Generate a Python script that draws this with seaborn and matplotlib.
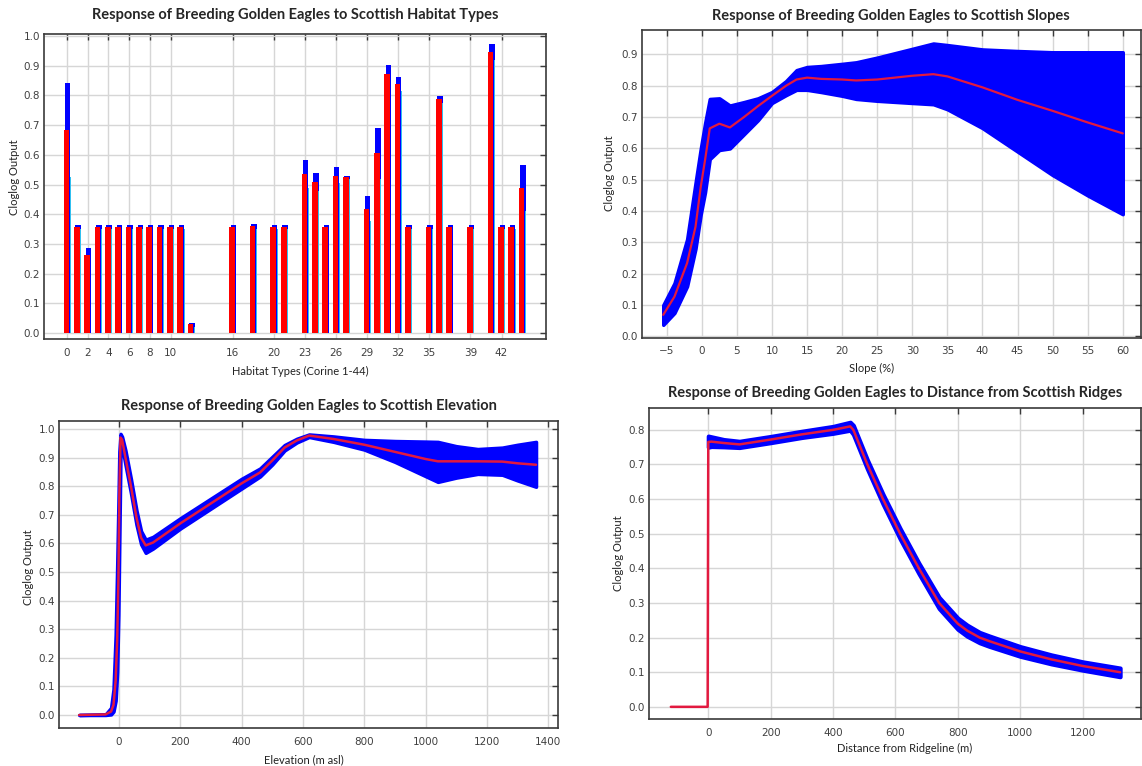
import numpy as np
import pandas as pd
import matplotlib
matplotlib.use("Agg")
import matplotlib.pyplot as plt
import seaborn as sns

# ---- habitat types (categorical response) ----
habitat = [0, 1, 2, 3, 4, 5, 6, 7, 8, 9, 10, 11, 12, 16, 18, 20, 21, 23, 24, 25, 26, 27,
           29, 30, 31, 32, 33, 35, 36, 37, 39, 41, 42, 43, 44]
hab_mean = [0.685, 0.357, 0.262, 0.357, 0.357, 0.357, 0.357, 0.357, 0.357, 0.357, 0.357, 0.357,
            0.031, 0.357, 0.360, 0.357, 0.357, 0.537, 0.509, 0.357, 0.529, 0.524,
            0.418, 0.607, 0.872, 0.837, 0.357, 0.357, 0.787, 0.357, 0.357, 0.947, 0.357, 0.357, 0.489]
hab_upper = [0.843, 0.363, 0.288, 0.363, 0.363, 0.363, 0.363, 0.363, 0.363, 0.363, 0.363, 0.363,
             0.035, 0.363, 0.366, 0.363, 0.363, 0.584, 0.540, 0.363, 0.560, 0.528,
             0.463, 0.691, 0.904, 0.862, 0.363, 0.363, 0.799, 0.363, 0.363, 0.972, 0.363, 0.363, 0.566]
hab_lower = [0.526, 0.351, 0.234, 0.351, 0.351, 0.351, 0.351, 0.351, 0.351, 0.351, 0.351, 0.351,
             0.020, 0.351, 0.352, 0.351, 0.351, 0.489, 0.479, 0.351, 0.506, 0.520,
             0.378, 0.520, 0.843, 0.815, 0.351, 0.351, 0.773, 0.351, 0.351, 0.919, 0.351, 0.351, 0.410]
hab_ticks = [0, 2, 4, 6, 8, 10, 16, 20, 23, 26, 29, 32, 35, 39, 42]

# ---- slope ----
slope_x = [-5.5, -3.9, -2.1, -0.9, -0.15, 0.46, 1.13, 2.5, 4, 6, 8, 10, 12, 13.5, 15, 17, 20,
           22, 25, 30, 33, 35, 40, 45, 50, 55, 60]
slope_mean = [0.069, 0.127, 0.234, 0.35, 0.478, 0.563, 0.664, 0.679, 0.667, 0.70, 0.735, 0.768,
              0.80, 0.82, 0.826, 0.822, 0.82, 0.817, 0.82, 0.832, 0.837, 0.83, 0.795, 0.755,
              0.72, 0.683, 0.648]
slope_upper = [0.10, 0.17, 0.31, 0.49, 0.60, 0.68, 0.758, 0.76, 0.737, 0.748, 0.76, 0.78, 0.815,
               0.85, 0.86, 0.863, 0.87, 0.875, 0.89, 0.918, 0.935, 0.93, 0.916, 0.911, 0.907,
               0.907, 0.907]
slope_lower = [0.037, 0.075, 0.16, 0.28, 0.39, 0.46, 0.566, 0.595, 0.60, 0.645, 0.69, 0.745,
               0.77, 0.787, 0.787, 0.78, 0.768, 0.758, 0.752, 0.745, 0.741, 0.725, 0.665, 0.59,
               0.515, 0.45, 0.39]

# ---- elevation ----
elev_x = [-130, -44, -26, -18, -11, -6, -2, 1, 5, 10, 21, 39, 57, 72, 87, 111, 200, 300, 400,
          460, 500, 540, 580, 620, 700, 800, 900, 1000, 1040, 1100, 1170, 1250, 1300, 1360]
elev_mean = [0.0, 0.002, 0.012, 0.035, 0.12, 0.26, 0.47, 0.76, 0.97, 0.963, 0.90, 0.80, 0.69,
             0.62, 0.593, 0.603, 0.67, 0.74, 0.81, 0.848, 0.89, 0.935, 0.96, 0.977, 0.965,
             0.945, 0.92, 0.895, 0.887, 0.887, 0.887, 0.886, 0.88, 0.875]
elev_upper = [0.0, 0.002, 0.025, 0.09, 0.28, 0.52, 0.74, 0.92, 0.983, 0.973, 0.925, 0.825, 0.715,
              0.643, 0.613, 0.623, 0.688, 0.757, 0.826, 0.862, 0.903, 0.944, 0.966, 0.981, 0.974,
              0.962, 0.958, 0.956, 0.955, 0.94, 0.93, 0.935, 0.945, 0.955]
elev_lower = [0.0, 0.0, 0.002, 0.012, 0.05, 0.15, 0.35, 0.60, 0.92, 0.94, 0.875, 0.775, 0.665,
              0.597, 0.567, 0.582, 0.652, 0.722, 0.792, 0.834, 0.876, 0.925, 0.953, 0.972, 0.955,
              0.928, 0.885, 0.835, 0.815, 0.83, 0.843, 0.84, 0.82, 0.798]

# ---- distance from ridgeline ----
ridge_x = [-120, -2, 0, 10, 50, 100, 200, 300, 400, 455, 465, 510, 560, 615, 675, 740, 780,
           800, 830, 870, 900, 1000, 1100, 1200, 1320]
ridge_mean = [0.0, 0.0, 0.765, 0.766, 0.762, 0.758, 0.772, 0.787, 0.80, 0.81, 0.80, 0.70, 0.60,
              0.50, 0.40, 0.30, 0.26, 0.24, 0.22, 0.20, 0.19, 0.16, 0.137, 0.118, 0.10]
ridge_upper = [0.0, 0.0, 0.782, 0.78, 0.772, 0.767, 0.781, 0.796, 0.81, 0.822, 0.813, 0.713,
               0.614, 0.515, 0.415, 0.316, 0.276, 0.256, 0.236, 0.215, 0.205, 0.174, 0.15,
               0.13, 0.112]
ridge_lower = [0.0, 0.0, 0.75, 0.752, 0.751, 0.749, 0.763, 0.778, 0.79, 0.799, 0.787, 0.687,
               0.586, 0.485, 0.385, 0.284, 0.244, 0.224, 0.204, 0.185, 0.175, 0.146, 0.124,
               0.106, 0.087]

BLUE = "#0000ff"
RED = "#ff0000"
LINE_RED = "#e2193f"
CYAN = "#30c0f0"

sns.set_style("white")
plt.rcParams["font.family"] = ["DejaVu Sans"]

fig = plt.figure(figsize=(11.42, 7.66), dpi=100)
W, H = 1142.0, 766.0


def make_ax(left, right, top, bottom):
    return fig.add_axes([left / W, 1 - bottom / H, (right - left) / W, (bottom - top) / H])


def style(ax, title, xlabel, pad, xl_pos, yl_pos):
    ax.grid(True, color="#d6d6d6", lw=1.0)
    ax.set_axisbelow(True)
    for s in ax.spines.values():
        s.set_color("#3a3a3a")
        s.set_linewidth(1.2)
        s.set_visible(True)
    ax.tick_params(direction="in", length=4, width=1.0, color="#3a3a3a",
                   top=True, right=True, labelsize=7.5, labelcolor="#404040")
    ax.tick_params(axis="x", pad=6)
    ax.tick_params(axis="y", pad=3)
    ax.set_title(title, fontfamily="Lato", fontweight="bold", fontsize=10.5, pad=pad)
    ax.set_xlabel(xlabel, fontfamily="Lato", fontsize=8, color="#222222")
    ax.set_ylabel("Cloglog Output", fontfamily="Lato", fontsize=8, color="#222222")
    ax.xaxis.set_label_coords(*xl_pos)
    ax.yaxis.set_label_coords(*yl_pos)
    ax.xaxis.label.set_verticalalignment("center")
    ax.yaxis.label.set_verticalalignment("center")


# top-left: habitat bars
ax1 = make_ax(44.3, 546, 34, 339.3)
hx = np.array(habitat, dtype=float)
ax1.bar(hx + 0.07, hab_upper, width=0.52, color=BLUE, lw=0, zorder=2)
ax1.bar(hx - 0.06, hab_mean, width=0.55, color=RED, lw=0, zorder=3)
ax1.bar(hx + 0.32, hab_lower, width=0.07, color=CYAN, lw=0, zorder=3)
ax1.set_xlim(-2.2, 46.3)
ax1.set_ylim(-0.021, 1.007)
ax1.set_xticks(hab_ticks)
ax1.set_yticks(np.arange(0, 1.01, 0.1))
ax1.yaxis.set_major_formatter(matplotlib.ticker.FormatStrFormatter("%.1f"))
style(ax1, "Response of Breeding Golden Eagles to Scottish Habitat Types",
      "Habitat Types (Corine 1-44)", 11, (0.51, -0.107), (-0.06, 0.53))

# top-right: slope
ax2 = make_ax(641.7, 1141, 30, 337.7)
df_s = pd.DataFrame({"x": slope_x, "y": slope_mean})
ax2.fill_between(slope_x, slope_lower, slope_upper, color=BLUE, lw=2.5, edgecolor=BLUE, zorder=2)
sns.lineplot(data=df_s, x="x", y="y", ax=ax2, color=LINE_RED, lw=1.6, zorder=3)
ax2.set_xlim(-8.57, 62.6)
ax2.set_ylim(-0.004, 0.978)
ax2.set_xticks(np.arange(-5, 61, 5))
ax2.set_yticks(np.arange(0, 0.91, 0.1))
ax2.yaxis.set_major_formatter(matplotlib.ticker.FormatStrFormatter("%.1f"))
style(ax2, "Response of Breeding Golden Eagles to Scottish Slopes",
      "Slope (%)", 7, (0.461, -0.099), (-0.065, 0.535))

# bottom-left: elevation
ax3 = make_ax(59, 558.3, 420.7, 728.3)
df_e = pd.DataFrame({"x": elev_x, "y": elev_mean})
ax3.fill_between(elev_x, elev_lower, elev_upper, color=BLUE, lw=2.5, edgecolor=BLUE, zorder=2)
sns.lineplot(data=df_e, x="x", y="y", ax=ax3, color=LINE_RED, lw=1.8, zorder=3)
ax3.set_xlim(-195.7, 1432.6)
ax3.set_ylim(-0.0465, 1.029)
ax3.set_xticks(np.arange(0, 1401, 200))
ax3.set_yticks(np.arange(0, 1.01, 0.1))
ax3.yaxis.set_major_formatter(matplotlib.ticker.FormatStrFormatter("%.1f"))
style(ax3, "Response of Breeding Golden Eagles to Scottish Elevation",
      "Elevation (m asl)", 8, (0.49, -0.104), (-0.061, 0.524))

# bottom-right: distance from ridgeline
ax4 = make_ax(649, 1141, 407.7, 719.3)
df_r = pd.DataFrame({"x": ridge_x, "y": ridge_mean})
ax4.fill_between(ridge_x[2:], ridge_lower[2:], ridge_upper[2:], color=BLUE, lw=3,
                 edgecolor=BLUE, zorder=2)
sns.lineplot(data=df_r, x="x", y="y", ax=ax4, color=LINE_RED, lw=1.8, zorder=3,
             sort=False)
ax4.set_xlim(-190, 1387)
ax4.set_ylim(-0.036, 0.864)
ax4.set_xticks(np.arange(0, 1201, 200))
ax4.set_yticks(np.arange(0, 0.81, 0.1))
ax4.yaxis.set_major_formatter(matplotlib.ticker.FormatStrFormatter("%.1f"))
style(ax4, "Response of Breeding Golden Eagles to Distance from Scottish Ridges",
      "Distance from Ridgeline (m)", 8, (0.52, -0.095), (-0.062, 0.534))

fig.savefig("out.png", dpi=100, facecolor="white")
